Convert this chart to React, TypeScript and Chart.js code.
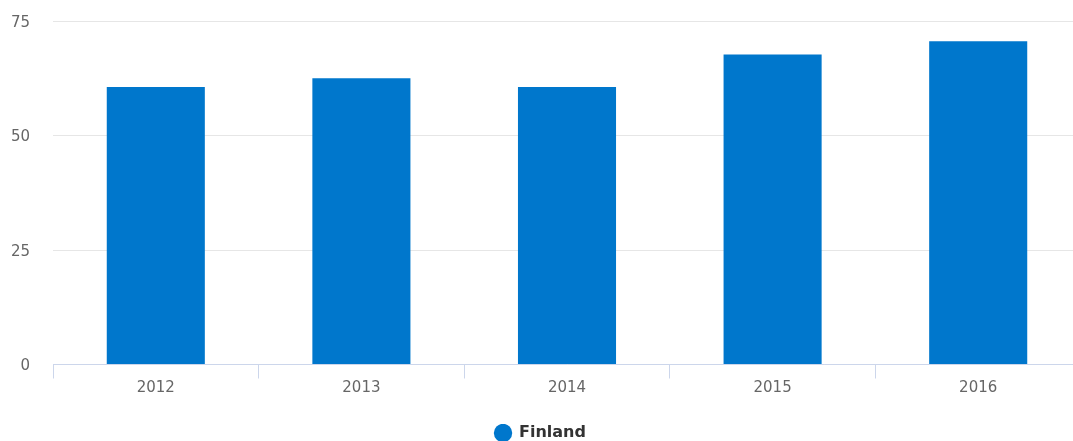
import React, { useEffect, useRef } from "react";
import { Chart, registerables } from "chart.js";

Chart.register(...registerables);

const categories = ["2012", "2013", "2014", "2015", "2016"];
const finlandValues = [60.6, 62.5, 60.6, 67.7, 70.6];
const yTicks = [0, 25, 50, 75];
const seriesName = "Finland";

export default function App() {
  const ref = useRef<HTMLCanvasElement | null>(null);

  useEffect(() => {
    if (!ref.current) return;
    const chart = new Chart(ref.current, {
      type: "bar",
      data: {
        labels: categories,
        datasets: [
          {
            label: seriesName,
            data: finlandValues,
            backgroundColor: "#0077cc",
            borderWidth: 0,
            categoryPercentage: 1,
            barPercentage: 0.477,
          },
        ],
      },
      options: {
        animation: false,
        responsive: true,
        maintainAspectRatio: false,
        layout: { padding: { left: 0, right: 9, top: 21, bottom: -10 } },
        plugins: {
          tooltip: { enabled: false },
          legend: {
            position: "bottom",
            labels: {
              usePointStyle: true,
              pointStyle: "circle",
              boxWidth: 16,
              boxHeight: 13,
              color: "#333333",
              padding: 1,
              font: { family: "DejaVu Sans", size: 16, weight: "bold" },
            },
          },
        },
        scales: {
          x: {
            afterFit: (axis: any) => {
              axis.height = 59.5;
            },
            grid: {
              display: true,
              drawOnChartArea: false,
              drawTicks: true,
              tickLength: 14,
              color: "#ccd6eb",
              offset: true,
            },
            border: { display: true, color: "#ccd6eb", width: 1 },
            ticks: {
              color: "#666666",
              padding: 0.5,
              font: { family: "DejaVu Sans", size: 15 },
            },
          },
          y: {
            min: 0,
            max: 75,
            afterBuildTicks: (axis: any) => {
              axis.ticks = yTicks.map((v) => ({ value: v }));
            },
            afterFit: (axis: any) => {
              axis.width = 53;
              axis.paddingTop = 0;
              axis.paddingBottom = 0;
            },
            grid: { color: "#e6e6e6", drawTicks: false },
            border: { display: false },
            ticks: {
              color: "#666666",
              padding: 23,
              labelOffset: 2,
              font: { family: "DejaVu Sans", size: 15 },
            },
          },
        },
      },
    });
    return () => chart.destroy();
  }, []);

  return (
    <div style={{ position: "absolute", left: 0, top: 0, width: 1073, height: 441, overflow: "hidden", background: "#fff" }}>
      <div style={{ position: "relative", width: 1090, height: 441 }}>
        <canvas ref={ref} />
      </div>
    </div>
  );
}
